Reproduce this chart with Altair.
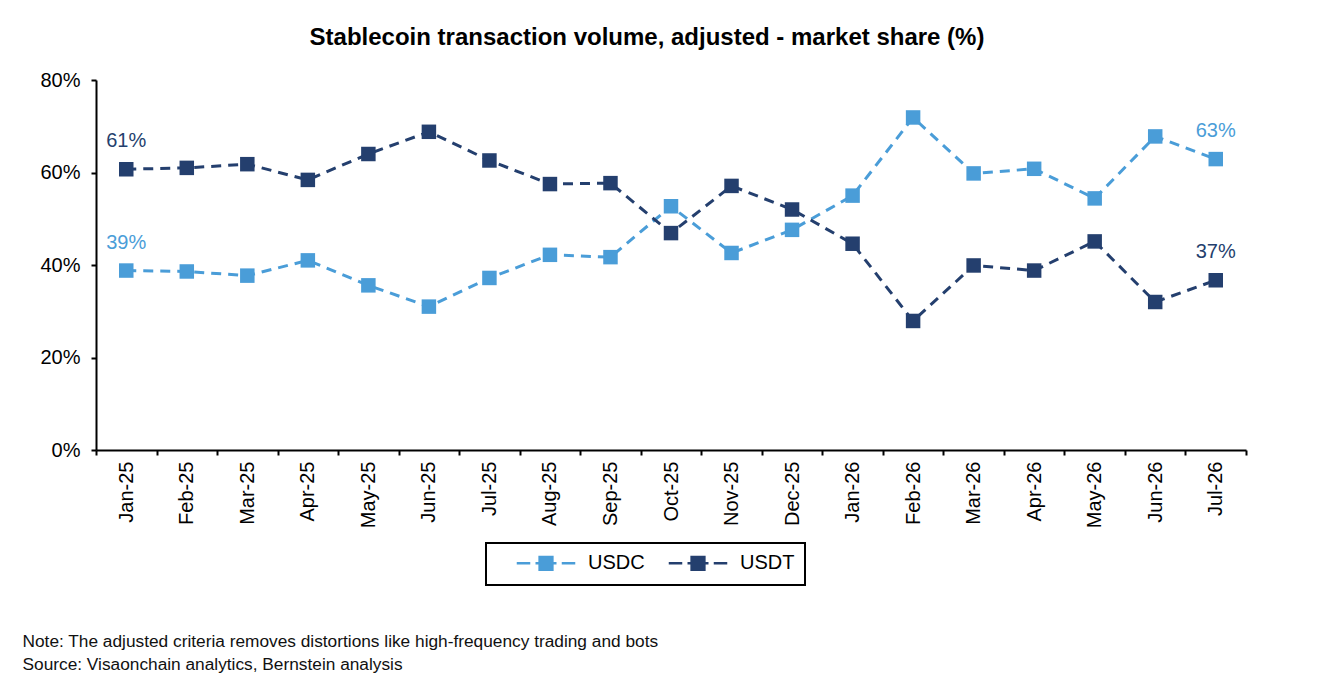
import altair as alt
import pandas as pd

months = ["Jan-25", "Feb-25", "Mar-25", "Apr-25", "May-25", "Jun-25", "Jul-25",
          "Aug-25", "Sep-25", "Oct-25", "Nov-25", "Dec-25", "Jan-26", "Feb-26",
          "Mar-26", "Apr-26", "May-26", "Jun-26", "Jul-26"]
usdc = [38.8, 38.6, 37.7, 41.0, 35.6, 31.0, 37.2, 42.2, 41.7, 52.7, 42.6,
        47.6, 55.0, 71.9, 59.8, 60.8, 54.4, 67.8, 62.9]
usdt = [60.7, 61.0, 61.8, 58.4, 64.0, 68.8, 62.6, 57.5, 57.7, 46.9, 57.1,
        52.0, 44.6, 27.9, 39.9, 38.8, 45.1, 32.0, 36.7]
series = ["USDC", "USDT"]
colors = ["#4A9DD8", "#243F6E"]
title_text = "Stablecoin transaction volume, adjusted - market share (%)"
notes = ["Note: The adjusted criteria removes distortions like high-frequency trading and bots",
         "Source: Visaonchain analytics, Bernstein analysis"]
y_ticks = [0, 20, 40, 60, 80]

rows = []
for i, m in enumerate(months):
    rows.append({"month": m, "series": "USDC", "value": usdc[i]})
    rows.append({"month": m, "series": "USDT", "value": usdt[i]})
df = pd.DataFrame(rows)

FONT = "Liberation Sans"

color_scale = alt.Scale(domain=series, range=colors)

x_enc = alt.X("month:N", sort=months,
              scale=alt.Scale(type="band", paddingInner=0, paddingOuter=0),
              axis=alt.Axis(title=notes, labelAngle=-90, tickBand="extent",
                            titleX=-74, titleY=182, titleAlign="left",
                            titleBaseline="top", titleAnchor="start",
                            titleFontSize=17.3, titleFontWeight="normal",
                            titleLineHeight=23, titleColor="#111111",
                            titleFont=FONT, labelPadding=6))
y_enc = alt.Y("value:Q", scale=alt.Scale(domain=[0, 80], nice=False),
              axis=alt.Axis(values=y_ticks, labelExpr="datum.value + '%'",
                            title=None, grid=False, labelPadding=11))

base = alt.Chart(df)

legend_path = ("M-3.9,0H-2.1M-1.4,0H-0.85M-0.85,-0.85H0.85V0.85H-0.85Z"
               "M-0.85,-0.55H0.85M-0.85,-0.28H0.85M-0.85,0H0.85M-0.85,0.28H0.85"
               "M-0.85,0.55H0.85M0.85,0H1.4M2.1,0H3.9")

legend_layer = base.transform_filter("false").mark_line(strokeWidth=2.5).encode(
    x=x_enc, y=y_enc,
    color=alt.Color("series:N", scale=color_scale,
                    legend=alt.Legend(title=None, orient="none", legendX=390, legendY=463,
                                      direction="horizontal", symbolType=legend_path,
                                      symbolSize=225, symbolStrokeWidth=2.5,
                                      symbolOffset=40,
                                      labelFontSize=20, labelFont=FONT, labelColor="#000000",
                                      labelOffset=32, columnPadding=3, padding=10,
                                      strokeColor="#000000")),
)

lines = base.mark_line(strokeDash=[10, 7], strokeWidth=3).encode(
    x=x_enc, y=y_enc,
    color=alt.Color("series:N", scale=color_scale, legend=None),
)

points = base.mark_point(shape="square", filled=True, size=210, opacity=1).encode(
    x=x_enc, y=y_enc,
    color=alt.Color("series:N", scale=color_scale, legend=None),
)

labels = base.transform_filter(
    alt.FieldOneOfPredicate(field="month", oneOf=[months[0], months[-1]])
).transform_calculate(
    label="format(datum.value, '.0f') + '%'"
).mark_text(dy=-28, fontSize=20, font=FONT, baseline="middle").encode(
    x=x_enc, y=y_enc, text="label:N",
    color=alt.Color("series:N", scale=color_scale, legend=None),
)

chart = alt.layer(legend_layer, lines, points, labels).properties(
    width=1150, height=370,
    title=alt.TitleParams(title_text, fontSize=24, font=FONT, fontWeight="bold",
                          color="#000000", anchor="middle", dx=-24, offset=20),
    autosize=alt.AutoSizeParams(type="none"),
    padding={"left": 88, "top": 72, "right": 50, "bottom": 230},
).configure_view(stroke=None).configure_axis(
    labelFont=FONT, labelFontSize=20, labelColor="#000000",
    domainColor="#000000", domainWidth=2, tickColor="#000000", tickWidth=2,
    tickSize=5,
).configure_legend(strokeWidth=2)

chart.save("out.html", embed_options={"renderer": "svg", "actions": False})
